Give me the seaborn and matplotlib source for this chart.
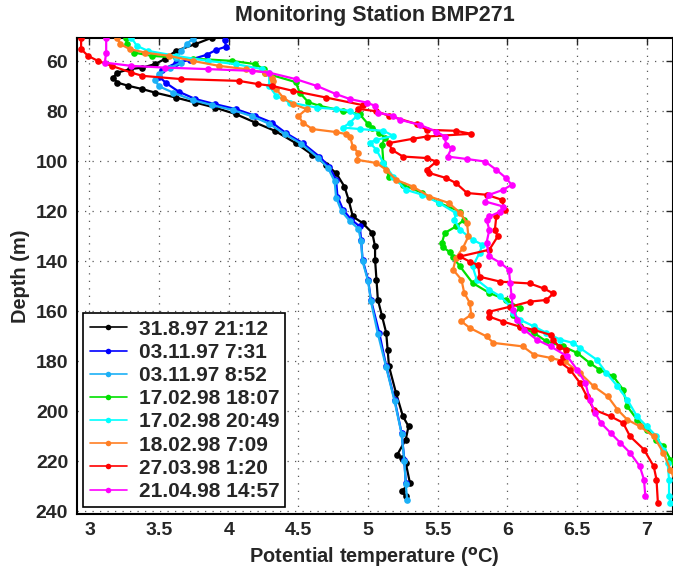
import matplotlib
matplotlib.use("Agg")
import matplotlib.pyplot as plt
import seaborn as sns
import pandas as pd

labels = ["31.8.97 21:12", "03.11.97 7:31", "03.11.97 8:52", "17.02.98 18:07",
          "17.02.98 20:49", "18.02.98 7:09", "27.03.98 1:20", "21.04.98 14:57"]
colors = ["#000000", "#0000FF", "#1CB0F6", "#00E000",
          "#00FFFF", "#FF7F24", "#FF0000", "#FF00FF"]

k_t = [3.88,3.76,3.62,3.54,3.47,3.38,3.29,3.20,3.17,3.20,3.28,3.38,3.47,3.62,3.76,3.90,4.05,4.19,4.33,4.48,4.60,4.70,4.77,4.83,4.86,4.89,4.96,5.03,5.05,5.05,5.06,5.07,5.10,5.13,5.14,5.15,5.20,5.25,5.29,5.27,5.21,5.24,5.27,5.30,5.24,5.27]
k_d = [50.5,53.1,55.8,59.1,61.1,62.5,63.1,64.5,66.5,68.5,69.8,71.1,72.5,74.5,76.5,78.5,81.1,84.5,87.8,92.7,97.4,101.4,104.7,110.1,115.4,122.1,124.7,128.7,134.1,139.4,147.4,155.4,162.0,168.7,175.4,182.1,192.7,202.1,206.1,211.4,217.4,218.7,220.7,228.7,232.1,234.1]

b_t = [3.97,3.98,3.91,3.84,3.72,3.62,3.52,3.50,3.55,3.64,3.76,3.90,4.05,4.19,4.31,4.41,4.53,4.65,4.72,4.77,4.78,4.82,4.88,4.94,4.95,4.96,5.00,5.02,5.08,5.13,5.19,5.24,5.26,5.27]
b_d = [51.4,54.1,55.4,57.4,59.4,60.7,63.4,66.1,68.7,72.1,75.1,77.1,79.1,81.8,84.5,88.7,92.7,98.1,102.1,107.4,114.1,119.4,123.4,126.1,131.4,139.4,147.4,155.4,168.7,182.1,195.4,208.7,219.4,228.7]

s_t = [3.74,3.70,3.66,3.62,3.66,3.58,3.50,3.47,3.50,3.60,3.74,3.88,4.03,4.17,4.29,4.40,4.52,4.64,4.71,4.76,4.77,4.81,4.87,4.93,4.95,4.96,5.00,5.02,5.07,5.13,5.19,5.24,5.26,5.27,5.28]
s_d = [51.0,53.0,56.0,58.5,60.5,62.5,65.0,67.5,70.0,72.5,75.5,77.5,79.5,82.0,85.0,89.0,93.0,98.5,102.5,108.0,114.5,120.0,124.0,127.0,132.0,140.0,148.0,156.0,169.0,182.5,196.0,209.0,220.0,229.0,235.5]

g_t = [3.26,3.27,3.32,3.45,3.74,4.02,4.19,4.25,4.26,4.48,4.51,4.57,4.65,4.82,4.94,5.00,5.03,5.08,5.12,5.10,5.11,5.15,5.25,5.39,5.51,5.66,5.69,5.63,5.55,5.53,5.54,5.59,5.61,5.66,5.75,5.87,5.99,6.09,6.04,6.09,6.19,6.28,6.40,6.50,6.59,6.66,6.76,6.83,6.86,6.93,7.00,7.07,7.12,7.17,7.22]
g_d = [50.5,53.1,56.5,57.8,58.9,59.8,61.1,63.1,64.7,68.3,72.6,76.3,77.8,79.8,81.2,85.1,86.5,88.5,90.6,93.3,100.7,106.1,109.4,112.7,116.7,120.1,123.4,126.1,128.7,132.7,134.5,136.5,138.5,142.1,148.7,152.7,155.4,158.7,161.4,166.1,168.7,172.1,174.1,176.7,180.7,183.4,186.1,191.4,198.1,203.4,207.4,211.4,214.1,219.4,225.0]

c_t = [3.30,3.34,3.42,3.62,3.85,4.05,4.24,4.29,4.29,4.34,4.44,4.63,4.77,4.87,4.92,4.87,4.82,4.94,5.11,5.18,5.06,5.01,5.06,5.11,5.18,5.27,5.39,5.51,5.63,5.62,5.66,5.75,5.82,5.80,5.75,5.78,5.87,5.95,6.02,6.04,6.09,6.19,6.28,6.38,6.47,6.52,6.64,6.71,6.79,6.86,6.93,7.00,7.07,7.12,7.15,7.16,7.16,7.17]
c_d = [50.5,53.8,55.8,57.8,59.8,61.1,63.1,64.5,69.8,73.8,76.5,78.5,79.1,79.8,81.8,84.5,86.5,87.1,87.8,89.8,91.4,92.5,95.4,100.7,106.1,111.4,113.4,116.7,120.7,123.4,127.4,131.4,133.4,136.7,142.1,147.4,151.4,154.1,158.1,160.7,163.4,166.1,168.7,171.4,172.7,174.7,179.4,184.7,190.1,195.4,202.1,206.1,210.1,215.4,220.7,227.4,234.1,236.7]

o_t = [3.20,3.22,3.29,3.40,3.57,3.74,3.93,4.12,4.26,4.31,4.32,4.34,4.39,4.46,4.56,4.50,4.53,4.60,4.77,4.84,4.87,4.89,4.93,4.92,5.06,5.13,5.20,5.32,5.44,5.58,5.66,5.71,5.72,5.68,5.63,5.61,5.67,5.69,5.73,5.74,5.67,5.73,5.85,5.90,6.11,6.19,6.31,6.41,6.52,6.62,6.72,6.79,6.86,6.95,7.05,7.12,7.17,7.22]
o_d = [50.5,53.1,55.1,56.5,57.8,59.8,61.8,63.1,64.5,66.5,68.0,71.1,74.5,77.1,79.1,81.8,84.5,87.1,88.3,89.1,90.1,94.1,96.7,99.4,100.7,103.4,107.4,110.1,114.1,116.7,120.7,124.7,130.1,134.7,138.7,143.4,147.4,152.7,156.7,161.4,164.1,166.7,170.1,172.7,174.1,177.4,178.7,180.1,184.7,190.1,194.1,199.4,203.4,206.1,210.1,216.7,223.4,230.0]

r_t = [2.94,2.94,2.99,3.06,3.16,3.30,3.38,3.66,4.07,4.21,4.31,4.46,4.70,4.96,4.93,5.06,5.15,5.35,5.42,5.63,5.74,5.42,5.32,5.15,5.17,5.25,5.42,5.49,5.42,5.44,5.56,5.63,5.71,5.85,5.96,5.98,5.92,5.91,5.93,5.87,5.66,5.73,5.79,5.80,5.95,6.16,6.26,6.33,6.28,6.16,6.02,5.87,5.87,5.97,6.09,6.19,6.31,6.33,6.37,6.42,6.40,6.38,6.45,6.52,6.57,6.62,6.74,6.83,6.88,6.98,7.05,7.07,7.08]
r_d = [50.5,55.1,57.8,59.8,61.8,64.5,65.8,67.1,67.8,69.1,69.8,71.8,74.5,77.5,79.0,80.0,81.8,85.1,87.4,87.8,89.0,90.1,91.0,92.7,95.4,98.1,98.7,100.1,103.4,104.7,106.7,108.7,112.7,113.4,115.4,119.4,122.1,127.4,130.1,135.4,138.1,140.2,141.5,146.2,148.2,148.9,150.9,152.9,155.5,156.2,158.2,160.2,162.2,164.2,166.2,167.5,169.5,171.5,174.2,175.5,178.2,180.5,183.4,188.7,194.1,199.4,202.1,204.7,210.1,215.4,222.1,227.4,236.7]

m_t = [3.12,3.12,3.11,3.30,3.54,3.85,4.17,4.29,4.48,4.63,4.77,4.87,4.99,5.05,5.07,5.18,5.23,5.37,5.49,5.55,5.56,5.60,5.57,5.71,5.84,5.92,5.99,6.03,5.97,5.87,5.84,5.97,5.95,5.87,5.85,5.87,5.85,5.87,5.95,6.01,6.02,6.03,6.04,6.07,6.12,6.21,6.31,6.43,6.50,6.56,6.59,6.63,6.67,6.74,6.81,6.88,6.95,6.98,6.99]
m_d = [50.5,56.5,60.5,61.8,62.5,63.1,63.8,64.5,67.1,69.8,73.1,75.1,76.5,77.8,80.5,81.8,83.4,85.4,88.1,90.1,93.4,94.7,98.1,99.1,100.1,103.4,106.7,109.4,111.4,113.4,116.1,118.1,120.1,122.1,123.4,127.4,132.7,138.1,140.7,143.4,148.7,154.1,159.4,163.4,167.4,171.4,174.1,178.1,183.4,188.7,195.4,200.7,204.7,208.7,212.7,216.7,222.1,227.4,234.1]

temps = [k_t, b_t, s_t, g_t, c_t, o_t, r_t, m_t]
depths = [k_d, b_d, s_d, g_d, c_d, o_d, r_d, m_d]

x_ticks = [3, 3.5, 4, 4.5, 5, 5.5, 6, 6.5, 7]
x_ticklabels = ["3", "3.5", "4", "4.5", "5", "5.5", "6", "6.5", "7"]
y_ticks = [60, 80, 100, 120, 140, 160, 180, 200, 220, 240]

sns.set_style("white")
plt.rcParams["font.family"] = ["Liberation Sans", "DejaVu Sans"]
plt.rcParams["font.weight"] = "bold"

fig = plt.figure(figsize=(6.73, 5.74), dpi=100)
ax = fig.add_axes([0.1137, 0.1045, 0.886, 0.8295])

for lab, col, t, d in zip(labels, colors, temps, depths):
    df = pd.DataFrame({"T": t, "D": d})
    sns.lineplot(data=df, x="T", y="D", sort=False, estimator=None, ax=ax,
                 color=col, label=lab, linewidth=1.6, marker="o",
                 markersize=4.8, markeredgewidth=0, zorder=3)

ax.set_xlim(2.907, 7.187)
ax.set_ylim(241.2, 50.6)
ax.set_xticks(x_ticks)
ax.set_xticklabels(x_ticklabels)
ax.set_yticks(y_ticks)
ax.grid(True, linestyle=(0, (1, 5)), color="0.35", linewidth=0.9)
for sp in ax.spines.values():
    sp.set_visible(True)
    sp.set_color("black")
    sp.set_linewidth(1.5)
ax.tick_params(direction="in", top=True, right=True, length=5, width=1,
               labelsize=14, pad=6)
for lbl in ax.get_xticklabels() + ax.get_yticklabels():
    lbl.set_fontweight("bold")

ax.set_xlabel("Potential temperature ($\\mathbf{^{o}}$C)", fontsize=14.4,
              fontweight="bold", labelpad=4)
ax.set_ylabel("Depth (m)", fontsize=14.4, fontweight="bold", labelpad=4)
ax.set_title("Monitoring Station BMP271", fontsize=15.5, fontweight="bold", pad=12)

leg = ax.legend(loc="lower left", frameon=True, fancybox=False,
                edgecolor="black", framealpha=1, borderaxespad=0.33,
                handlelength=1.8, handletextpad=0.55, labelspacing=0.2,
                borderpad=0.3, prop={"weight": "bold", "size": 15})
leg.get_frame().set_linewidth(1.2)
for h in leg.get_lines():
    h.set_markersize(4)
    h.set_linewidth(1.2)

fig.savefig("out.png", dpi=100)
